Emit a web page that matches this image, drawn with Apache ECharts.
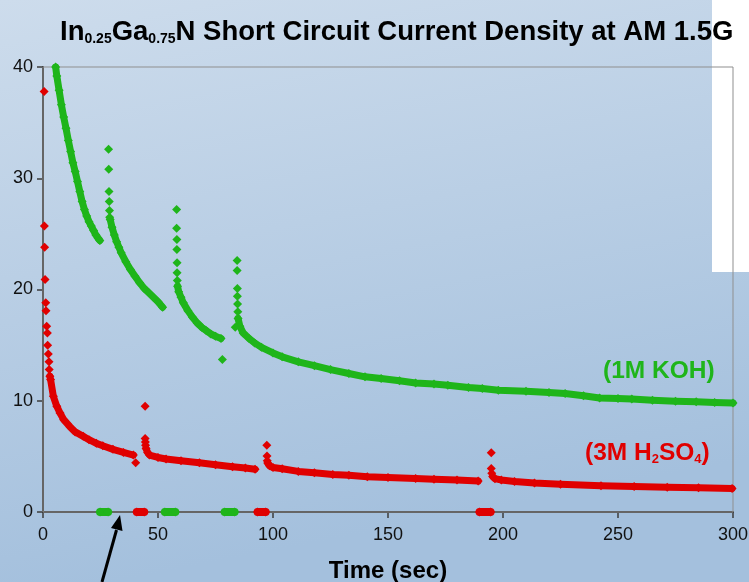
<!DOCTYPE html>
<html><head><meta charset="utf-8">
<script src="https://cdn.jsdelivr.net/npm/echarts@6/dist/echarts.min.js"></script>
<style>html,body{margin:0;padding:0;}#c{width:749px;height:582px;}</style>
</head><body><div id="c"></div>
<script>
// ---- data (time in sec, current density) ----
const xTicks = [0, 50, 100, 150, 200, 250, 300];
const yTicks = [0, 10, 20, 30, 40];

// 1M KOH (green)
const kohSeg1 = [[5.5,40.0],[6,39.2],[7,37.9],[8,36.6],[9,35.5],[10,34.5],[11,33.4],[12,32.4],[13,31.4],[14,30.6],[15,29.7],[16,28.8],[17,27.9],[18,27.2],[19,26.6],[20,26.1],[21,25.7],[22,25.3],[23,24.9],[24,24.6],[24.7,24.4]];
const kohSpike1 = [[28.5,32.6],[28.6,30.8],[28.7,28.8],[28.8,27.9],[28.9,27.1],[29.0,26.5]];
const kohSeg2 = [[29.2,26.3],[30,25.6],[31,24.9],[32,24.3],[33,23.8],[34,23.3],[36,22.5],[38,21.8],[40,21.2],[42,20.6],[44,20.1],[46,19.7],[48,19.3],[50,18.9],[52,18.4]];
const kohSpike2 = [[58.1,27.2],[58.1,25.5],[58.2,24.5],[58.2,23.6],[58.3,22.4],[58.3,21.5],[58.4,20.8],[78.0,13.7]];
const kohSeg3 = [[58.5,20.3],[59,19.8],[60,19.3],[61,18.8],[63,18.1],[65,17.5],[67,17.0],[69,16.6],[71,16.3],[73,16.0],[75,15.8],[77.4,15.6]];
const kohSpike3 = [[84.4,22.6],[84.4,21.7],[84.5,20.1],[84.5,19.4],[84.6,18.7],[84.7,18.0],[83.6,16.6]];
const kohSeg4 = [[84.8,17.4],[85.6,16.7],[87,16.1],[89.6,15.6],[92,15.2],[95,14.8],[100,14.3],[104,13.95],[111,13.5],[118,13.15],[125,12.8],[133,12.45],[140,12.15],[147,12.0],[155,11.8],[162,11.6],[170,11.5],[176,11.4],[185,11.2],[191,11.1],[198,10.95],[210,10.85],[220,10.75],[227,10.65],[235,10.45],[242,10.25],[250,10.2],[256,10.15],[265,10.05],[275,9.95],[284,9.9],[292,9.85],[300,9.8]];
const kohDark = [[[24.8,0],[28.3,0]],[[53,0],[57.5,0]],[[79,0],[83.3,0]]];

// 3M H2SO4 (red)
const acidSpike0 = [[0.5,37.8],[0.6,25.7],[0.7,23.8],[0.9,20.9],[1.2,18.8],[1.3,18.1],[1.6,16.7],[1.9,16.1],[2.0,15.0],[2.3,14.2],[2.6,13.5],[2.7,12.8],[40.3,4.43]];
const acidSeg1 = [[3.0,12.2],[3.3,11.9],[4.5,10.4],[6,9.5],[7.4,8.9],[9,8.3],[11.7,7.67],[14,7.2],[17.5,6.8],[20,6.5],[23.2,6.17],[26,5.95],[30.4,5.63],[35,5.35],[39.3,5.12]];
const acidSpike1 = [[44.4,9.5],[44.4,6.6],[44.5,6.3],[44.6,6.0]];
const acidSeg2 = [[44.8,5.7],[45.5,5.35],[46.3,5.12],[50,4.9],[53.5,4.76],[60,4.6],[68,4.43],[75,4.25],[82.4,4.07],[88,3.95],[92.2,3.85]];
const acidSpike2 = [[97.3,6.0],[97.4,5.03],[97.5,4.6]];
const acidSeg3 = [[97.7,4.4],[98.5,4.15],[100,4.0],[104,3.88],[111,3.65],[118,3.52],[126,3.38],[133,3.3],[141,3.17],[150,3.1],[162,3.02],[170,2.95],[180,2.87],[189.2,2.78]];
const acidSpike3 = [[194.9,5.33],[194.9,3.92],[195.1,3.48]];
const acidSeg4 = [[195.5,3.2],[196.5,3.0],[199.3,2.88],[205,2.74],[213.7,2.6],[225,2.5],[242.6,2.36],[257,2.29],[271.4,2.22],[285,2.17],[299.6,2.12]];
const acidDark = [[[40.8,0],[44,0]],[[93.3,0],[96.8,0]],[[189.8,0],[194.6,0]]];

const GREEN = '#1fb51a';
const RED = '#e00000';
const FONT = '"Liberation Sans", Arial, sans-serif';

function seg(data, color, w) {
  return { type: 'line', data: data, animation: false, symbol: 'diamond', symbolSize: 9, showSymbol: true,
    itemStyle: { color: color, opacity: 1 }, lineStyle: { color: color, width: w || 7, cap: 'round', join: 'round' }, z: 3, silent: true };
}
function pts(data, color) {
  return { type: 'scatter', data: data, animation: false, symbol: 'diamond', symbolSize: 9,
    itemStyle: { color: color, opacity: 1 }, z: 3, silent: true };
}

const series = [];
[kohSeg1, kohSeg2, kohSeg3, kohSeg4].forEach(s => series.push(seg(s, GREEN)));
[kohSpike1, kohSpike2, kohSpike3].forEach(s => series.push(pts(s, GREEN)));
kohDark.forEach(s => series.push(seg(s, GREEN, 8)));
[acidSeg1, acidSeg2, acidSeg3, acidSeg4].forEach(s => series.push(seg(s, RED)));
[acidSpike0, acidSpike1, acidSpike2, acidSpike3].forEach(s => series.push(pts(s, RED)));
acidDark.forEach(s => series.push(seg(s, RED, 8)));

const chart = echarts.init(document.getElementById('c'), null, { renderer: 'canvas' });
chart.setOption({
  animation: false,
  backgroundColor: new echarts.graphic.LinearGradient(0, 0, 0.15, 1, [
    { offset: 0, color: '#cddcec' }, { offset: 1, color: '#a4c0dd' }
  ]),
  title: {
    text: '{b|In}{s|0.25}{b|Ga}{s|0.75}{b|N Short Circuit Current Density at AM 1.5G}',
    left: 55, top: 13,
    textStyle: {
      rich: {
        b: { fontFamily: FONT, fontWeight: 'bold', fontSize: 27.5, color: '#000' },
        s: { fontFamily: FONT, fontWeight: 'bold', fontSize: 14, color: '#000', padding: [14, 0, 0, 0] }
      }
    }
  },
  grid: { left: 43, right: 16, top: 67, bottom: 70, show: true, borderColor: '#8f8f8f', borderWidth: 1,
    backgroundColor: 'transparent', z: 1, containLabel: false, outerBoundsMode: 'none' },
  xAxis: {
    type: 'value', min: xTicks[0], max: xTicks[xTicks.length - 1], interval: 50,
    name: 'Time (sec)', nameLocation: 'middle', nameGap: 47,
    nameTextStyle: { fontFamily: FONT, fontWeight: 'bold', fontSize: 24, color: '#000' },
    axisLine: { lineStyle: { color: '#3c3c3c', width: 2 } },
    axisTick: { show: true, inside: false, length: 6, lineStyle: { color: '#3c3c3c', width: 1.5 } },
    axisLabel: { fontFamily: FONT, fontSize: 18, color: '#111', margin: 14 },
    splitLine: { show: false }
  },
  yAxis: {
    type: 'value', min: yTicks[0], max: yTicks[yTicks.length - 1], interval: 10,
    axisLine: { show: true, lineStyle: { color: '#3c3c3c', width: 2 } },
    axisTick: { show: true, inside: false, length: 6, lineStyle: { color: '#3c3c3c', width: 1.5 } },
    axisLabel: { fontFamily: FONT, fontSize: 18, color: '#111', margin: 10 },
    splitLine: { show: false }
  },
  graphic: [
    { type: 'rect', z: 0, zlevel: 0, shape: { x: 712, y: 0, width: 37, height: 272 }, style: { fill: '#ffffff' }, silent: true },
    { type: 'text', z: 10, left: 603, top: 359, style: { text: '(1M KOH)', fill: GREEN, font: 'bold 24.5px ' + FONT } },
    { type: 'text', z: 10, left: 585, top: 441, style: {
        text: '{b|(3M H}{s|2}{b|SO}{s|4}{b|)}',
        rich: {
          b: { fontFamily: FONT, fontWeight: 'bold', fontSize: 24.5, fill: RED },
          s: { fontFamily: FONT, fontWeight: 'bold', fontSize: 13, fill: RED, padding: [12, 0, 0, 0] }
        }
    } },
    { type: 'line', z: 10, shape: { x1: 102, y1: 582, x2: 116.5, y2: 530 }, style: { stroke: '#000', lineWidth: 3 } },
    { type: 'polygon', z: 10, shape: { points: [[120, 515], [122.5, 531], [111, 528]] }, style: { fill: '#000' } }
  ],
  series: series
});
</script></body></html>
